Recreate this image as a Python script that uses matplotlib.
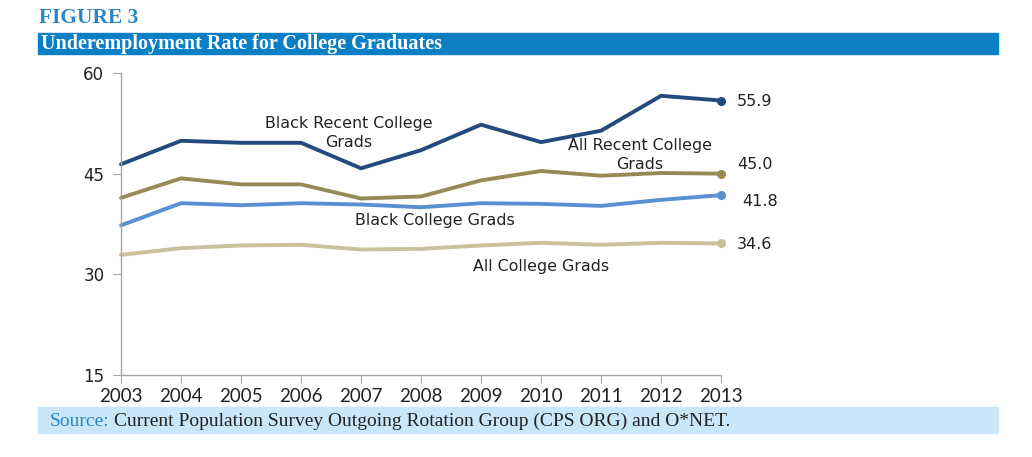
import matplotlib
matplotlib.use("Agg")
import matplotlib.pyplot as plt
from matplotlib.patches import Rectangle

years = list(range(2003, 2014))
black_recent = [46.4, 49.9, 49.6, 49.6, 45.8, 48.5, 52.3, 49.7, 51.4, 56.6, 55.9]
all_recent = [41.4, 44.3, 43.4, 43.4, 41.3, 41.6, 44.0, 45.4, 44.7, 45.1, 45.0]
black_college = [37.3, 40.6, 40.3, 40.6, 40.4, 40.0, 40.6, 40.5, 40.2, 41.1, 41.8]
all_college = [32.9, 33.9, 34.3, 34.4, 33.7, 33.8, 34.3, 34.7, 34.4, 34.7, 34.6]
yticks = [15, 30, 45, 60]

c_br = "#234a7c"
c_ar = "#958b56"
c_bc = "#5a8fd2"
c_ac = "#c8c19c"

W, H = 1032, 457
fig = plt.figure(figsize=(W / 100, H / 100), dpi=100)

def fx(px):
    return px / W

def fy(py):
    return 1 - py / H

# header
fig.text(fx(39), fy(18), "FIGURE 3", color="#2a86c4", fontsize=15.5, fontweight="bold",
         family="Liberation Serif", va="center", ha="left")
fig.patches.append(Rectangle((fx(38), fy(54)), fx(998) - fx(38), fy(33) - fy(54),
                             transform=fig.transFigure, color="#0a7fc4", zorder=0))
fig.text(fx(41), fy(44), "Underemployment Rate for College Graduates", color="white",
         fontsize=14.5, fontweight="bold", family="Liberation Serif", va="center", ha="left")

# source band
fig.patches.append(Rectangle((fx(38), fy(433)), fx(998) - fx(38), fy(407) - fy(433),
                             transform=fig.transFigure, color="#c9e7f8", zorder=0))
t = fig.text(fx(50), fy(421), "Source:", color="#2a86c4", fontsize=14,
             family="Liberation Serif", va="center", ha="left")
fig.canvas.draw()
bb = t.get_window_extent(renderer=fig.canvas.get_renderer())
fig.text(bb.x1 / W + fx(4), fy(421),
         "Current Population Survey Outgoing Rotation Group (CPS ORG) and O*NET.",
         color="#222222", fontsize=14, family="Liberation Serif", va="center", ha="left")

ax = fig.add_axes([fx(121), fy(375), fx(721) - fx(121), fy(73) - fy(375)])
lw = 2.8
for vals, col in [(all_college, c_ac), (black_college, c_bc), (all_recent, c_ar), (black_recent, c_br)]:
    ax.plot(years, vals, color=col, lw=lw, solid_capstyle="round", clip_on=False)
    ax.plot(years[-1], vals[-1], "o", color=col, ms=5.5, clip_on=False)

ax.set_xlim(2003, 2013)
ax.set_ylim(15, 60)
ax.set_yticks(yticks)
ax.set_xticks(years)
ax.set_xticklabels([str(y) for y in years], family="Lato", fontsize=13.5)
ax.tick_params(axis="y", labelsize=12, length=6, color="#a6a6a6", pad=6, labelcolor="#222222")
ax.tick_params(axis="x", length=6, color="#a6a6a6", pad=3, labelcolor="#222222")
for s in ["top", "right"]:
    ax.spines[s].set_visible(False)
for s in ["left", "bottom"]:
    ax.spines[s].set_color("#a6a6a6")
    ax.spines[s].set_linewidth(1)

fs = 11.4
ax.text(2006.8, 51.1, "Black Recent College\nGrads", ha="center", va="center", fontsize=fs,
        color="#222222", linespacing=1.35)
ax.text(2011.65, 47.8, "All Recent College\nGrads", ha="center", va="center", fontsize=fs,
        color="#222222", linespacing=1.35)
ax.text(2008.23, 37.95, "Black College Grads", ha="center", va="center", fontsize=fs, color="#222222")
ax.text(2010.0, 31.1, "All College Grads", ha="center", va="center", fontsize=fs, color="#222222")

for v, yy, xo in [(black_recent[-1], 55.7, 2013.27), (all_recent[-1], 46.3, 2013.27),
                  (black_college[-1], 40.9, 2013.35), (all_college[-1], 34.5, 2013.27)]:
    ax.text(xo, yy, f"{v:.1f}", ha="left", va="center", fontsize=11.5, color="#222222", clip_on=False)

fig.savefig("out.png", dpi=100)
